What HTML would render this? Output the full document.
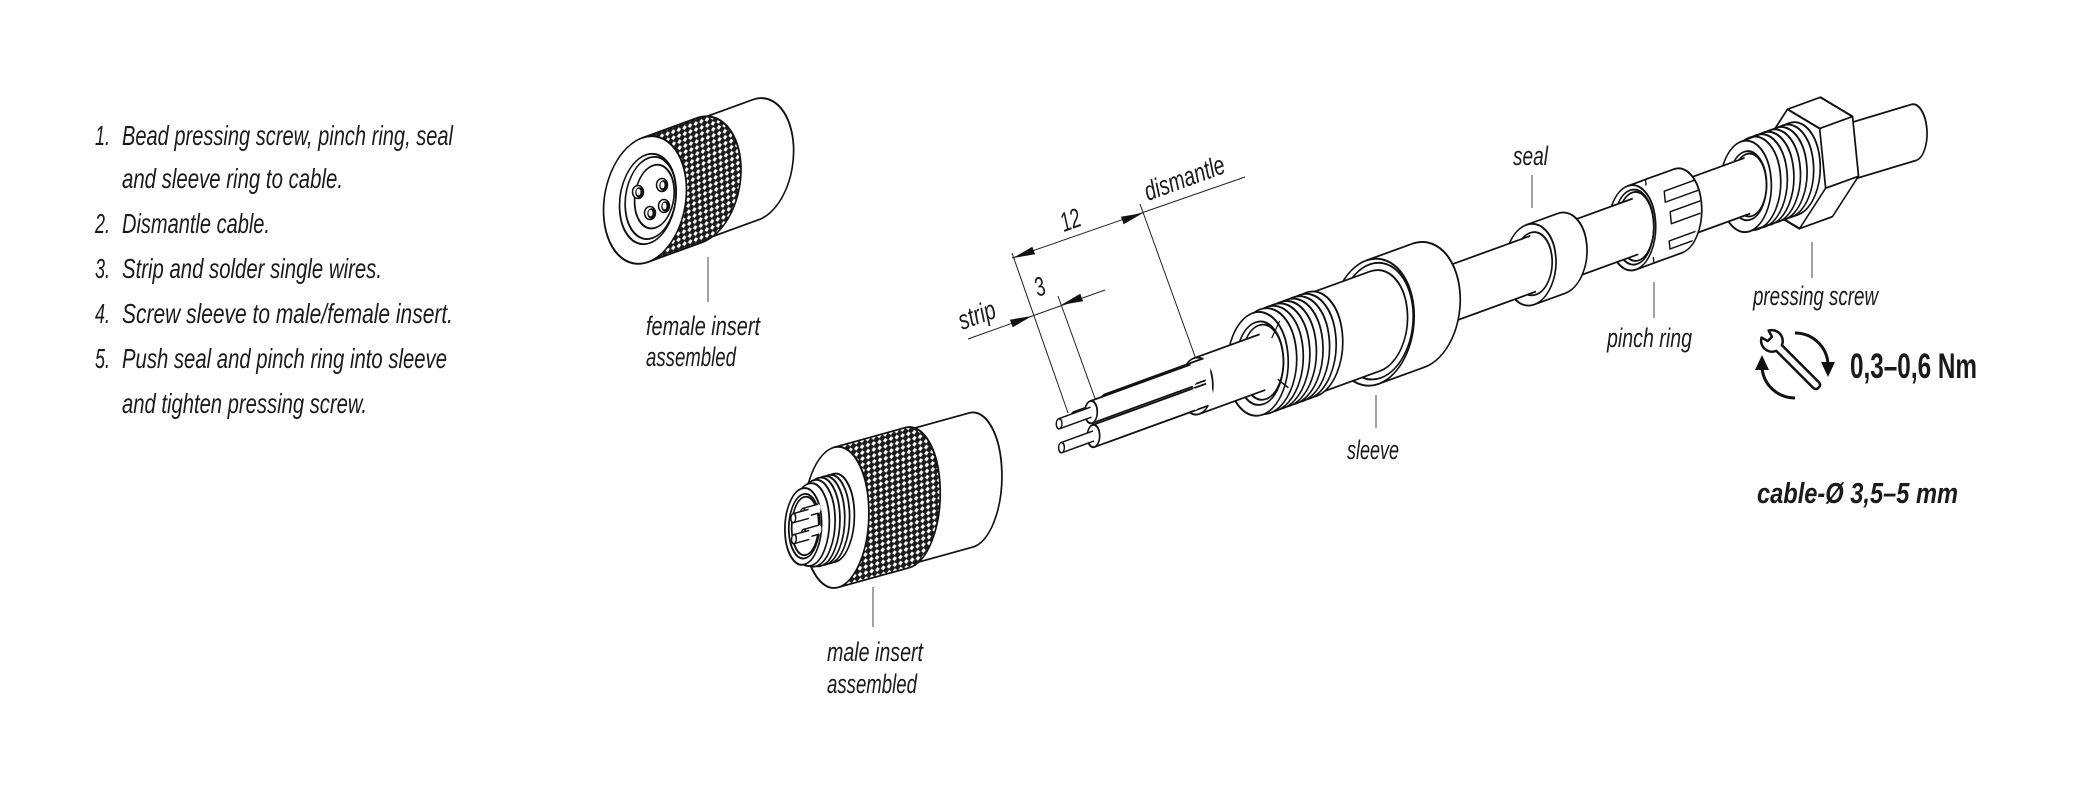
<!DOCTYPE html>
<html><head><meta charset="utf-8">
<style>html,body{margin:0;padding:0;background:#fff}svg{display:block}</style>
</head><body>
<svg width="2076" height="796" viewBox="0 0 2076 796" xmlns="http://www.w3.org/2000/svg">
<defs>
<pattern id="kn" width="6" height="6" patternUnits="userSpaceOnUse"><rect width="6" height="6" fill="#1c1c1c"/><path d="M3 0.6L5.4 3L3 5.4L0.6 3Z" fill="#fff"/></pattern>
</defs>
<rect width="2076" height="796" fill="#fff"/>

<!-- Instruction list -->
<g font-family="'Liberation Sans', sans-serif" font-style="italic" font-size="27.5" fill="#1a1a1a">
 <text x="95" y="145" textLength="15" lengthAdjust="spacingAndGlyphs">1.</text>
 <text x="122" y="145" textLength="331" lengthAdjust="spacingAndGlyphs">Bead pressing screw, pinch ring, seal</text>
 <text x="122" y="188" textLength="221" lengthAdjust="spacingAndGlyphs">and sleeve ring to cable.</text>
 <text x="95" y="233" textLength="15" lengthAdjust="spacingAndGlyphs">2.</text>
 <text x="122" y="233" textLength="148" lengthAdjust="spacingAndGlyphs">Dismantle cable.</text>
 <text x="95" y="278" textLength="15" lengthAdjust="spacingAndGlyphs">3.</text>
 <text x="122" y="278" textLength="260" lengthAdjust="spacingAndGlyphs">Strip and solder single wires.</text>
 <text x="95" y="323" textLength="15" lengthAdjust="spacingAndGlyphs">4.</text>
 <text x="122" y="323" textLength="331" lengthAdjust="spacingAndGlyphs">Screw sleeve to male/female insert.</text>
 <text x="95" y="368" textLength="15" lengthAdjust="spacingAndGlyphs">5.</text>
 <text x="122" y="368" textLength="325" lengthAdjust="spacingAndGlyphs">Push seal and pinch ring into sleeve</text>
 <text x="122" y="413" textLength="245" lengthAdjust="spacingAndGlyphs">and tighten pressing screw.</text>
</g>

<!-- Labels -->
<g font-family="'Liberation Sans', sans-serif" font-style="italic" font-size="27" fill="#1a1a1a">
 <text x="646" y="335" textLength="114" lengthAdjust="spacingAndGlyphs">female insert</text>
 <text x="646" y="366" textLength="90" lengthAdjust="spacingAndGlyphs">assembled</text>
 <text x="827" y="661" textLength="96" lengthAdjust="spacingAndGlyphs">male insert</text>
 <text x="827" y="693" textLength="90" lengthAdjust="spacingAndGlyphs">assembled</text>
 <text x="1347" y="459" textLength="52" lengthAdjust="spacingAndGlyphs">sleeve</text>
 <text x="1513" y="165" textLength="35" lengthAdjust="spacingAndGlyphs">seal</text>
 <text x="1607" y="347" textLength="85" lengthAdjust="spacingAndGlyphs">pinch ring</text>
 <text x="1753" y="305" textLength="125" lengthAdjust="spacingAndGlyphs">pressing screw</text>
 <text x="1148" y="201" transform="rotate(-20 1148 201)" textLength="84" lengthAdjust="spacingAndGlyphs">dismantle</text>
 <text x="1064" y="232" transform="rotate(-20 1064 232)" textLength="20" lengthAdjust="spacingAndGlyphs">12</text>
 <text x="1038" y="297" transform="rotate(-20 1038 297)" textLength="10" lengthAdjust="spacingAndGlyphs">3</text>
 <text x="962" y="330" transform="rotate(-20 962 330)" textLength="38" lengthAdjust="spacingAndGlyphs">strip</text>
</g>
<g font-family="'Liberation Sans', sans-serif" font-weight="bold" fill="#1a1a1a">
 <text x="1850" y="378" font-size="35" textLength="127" lengthAdjust="spacingAndGlyphs">0,3–0,6 Nm</text>
 <text x="1757" y="503" font-size="29" font-style="italic" textLength="201" lengthAdjust="spacingAndGlyphs">cable-Ø 3,5–5 mm</text>
</g>

<!-- Leader lines -->
<g stroke="#666" stroke-width="1.2" fill="none">
 <path d="M708,257V302M873,587V627M1376,395V428M1532,175V208M1654,282V318M1812,242V278"/>
</g>

<!-- Dimension lines -->
<g stroke="#222" stroke-width="1" fill="none">
 <path d="M1012,253L1068,413M1058,296L1097,404M1140,204L1197,362"/>
 <path d="M1012,258L1245,177M968,339L1105,290"/>
</g>
<g fill="#111">
 <path d="M1013,258L1035.1,254.3L1032.3,246.7Z"/>
 <path d="M1143,213L1123.7,224.3L1120.9,216.7Z"/>
 <path d="M1032,316L1012.7,327.3L1009.9,319.7Z"/>
 <path d="M1061,305L1083.1,301.3L1080.3,293.7Z"/>
</g>

<!-- Cable assembly -->
<g transform="matrix(0.94,-0.342,0.1,0.995,1065,434)" stroke="#111" stroke-width="1.8" fill="none" stroke-linejoin="round">
 <!-- cable end -->
 <path d="M780,-28L902,-21A14 28 0 0 1 902,35L780,28Z" fill="#fff" stroke="none"/>
 <path d="M780,-28L902,-21A14 28 0 0 1 902,35L780,28"/>
 <!-- hex nut -->
 <path d="M744,-30L775,-60L810,-60L841,-30L841,30L810,60L775,60L744,30Z" fill="#fff"/>
 <path d="M775,-60L806,-30L806,30L775,60L744,30L744,-30Z M806,-30L841,-30 M806,30L841,30"/>
 <!-- pressing screw thread -->
 <ellipse cx="775" cy="0" rx="28" ry="46" fill="#fff"/>
 <ellipse cx="768" cy="0" rx="28" ry="46" fill="#fff"/>
 <ellipse cx="761" cy="0" rx="28" ry="46" fill="#fff"/>
 <ellipse cx="754" cy="0" rx="28" ry="46" fill="#fff"/>
 <ellipse cx="747" cy="0" rx="28" ry="46" fill="#fff"/>
 <ellipse cx="740" cy="0" rx="28" ry="46" fill="#fff"/>
 <ellipse cx="733" cy="0" rx="28" ry="46" fill="#fff"/>
 <path d="M723,-45L775,-46M723,45L775,46"/>
 <ellipse cx="724" cy="0" rx="27" ry="45" fill="#fff"/>
 <ellipse cx="726" cy="0" rx="20" ry="34"/>
 <ellipse cx="728" cy="0" rx="18" ry="31"/>
 <!-- cable 650-723 -->
 <path d="M650,-28L726,-28A17 28 0 0 1 726,28L650,28Z" fill="#fff" stroke="none"/>
 <path d="M650,-28L726,-28M650,28L726,28"/>
 <!-- pinch ring -->
 <path d="M603,-42L652,-42A25 42 0 0 1 652,42L603,42Z" fill="#fff"/>
 <path d="M672,-24L640,-24L640,-13L675,-13 M676,-2L644,-2L644,10L675,10 M668,26L640,26L640,34L664,34" stroke-width="1.5"/>
 <path d="M622,-42L622,-36M622,36L622,42" stroke-width="1.4"/>
 <ellipse cx="603" cy="0" rx="25" ry="42" fill="#fff"/>
 <ellipse cx="605" cy="0" rx="21" ry="37"/>
 <ellipse cx="607" cy="0" rx="19" ry="34"/>
 <!-- cable 525-603 -->
 <path d="M525,-28L607,-28A17 28 0 0 1 607,28L525,28Z" fill="#fff" stroke="none"/>
 <path d="M525,-28L607,-28M525,28L607,28"/>
 <!-- seal -->
 <path d="M495,-40L528,-40A27 40 0 0 1 528,40L495,40Z" fill="#fff"/>
 <ellipse cx="495" cy="0" rx="27" ry="40" fill="#fff"/>
 <ellipse cx="498" cy="0" rx="20" ry="31"/>
 <!-- cable 370-495 -->
 <path d="M370,-28L498,-28A17 28 0 0 1 498,28L370,28Z" fill="#fff" stroke="none"/>
 <path d="M370,-28L498,-28M370,28L498,28"/>
 <!-- sleeve nut -->
 <path d="M327,-62L376,-62A44 62 0 0 1 376,62L327,62Z" fill="#fff"/>
 <ellipse cx="327" cy="0" rx="44" ry="62" fill="#fff"/>
 <ellipse cx="330" cy="0" rx="40" ry="57"/>
 <!-- sleeve body -->
 <path d="M262,-50L330,-50A34 50 0 0 1 330,50L262,50Z" fill="#fff" stroke="none"/>
 <path d="M262,-50L330,-50A34 50 0 0 1 330,50L262,50"/>
 <!-- sleeve thread -->
 <ellipse cx="262" cy="0" rx="33" ry="52" fill="#fff"/>
 <ellipse cx="255" cy="0" rx="33" ry="52" fill="#fff"/>
 <ellipse cx="248" cy="0" rx="33" ry="52" fill="#fff"/>
 <ellipse cx="241" cy="0" rx="33" ry="52" fill="#fff"/>
 <ellipse cx="234" cy="0" rx="33" ry="52" fill="#fff"/>
 <ellipse cx="227" cy="0" rx="33" ry="52" fill="#fff"/>
 <ellipse cx="220" cy="0" rx="33" ry="52" fill="#fff"/>
 <ellipse cx="213" cy="0" rx="33" ry="52" fill="#fff"/>
 <ellipse cx="205" cy="0" rx="32" ry="51" fill="#fff"/>
 <ellipse cx="207" cy="0" rx="25" ry="41"/>
 <ellipse cx="210" cy="0" rx="22" ry="37"/>
 <path d="M222,-20L232,-34M224,22L234,34" stroke-width="1.4"/>
 <!-- cable 140-205 -->
 <path d="M140,-28L210,-28A17 28 0 0 1 210,28L140,28Z" fill="#fff" stroke="none"/>
 <path d="M140,-28L210,-28M140,28L210,28"/>
 <!-- jacket face -->
 <ellipse cx="140" cy="0" rx="17" ry="28" fill="#fff"/>
 <!-- back wires (shift +11) -->
 <path d="M45,-24.5L150,-24.5A6 11 0 0 1 150,-2.5L45,-2.5Z" fill="#fff" stroke="none"/>
 <path d="M45,-24.5L150,-24.5M45,-2.5L150,-2.5"/>
 <ellipse cx="45" cy="-13.5" rx="6.5" ry="11" fill="#fff"/>
 <path d="M11,-18.5L45,-18.5A3 5 0 0 1 45,-8.5L11,-8.5Z" fill="#fff" stroke="none"/>
 <path d="M11,-18.5L45,-18.5M11,-8.5L45,-8.5" stroke-width="1.5"/>
 <ellipse cx="11" cy="-13.5" rx="3" ry="5" fill="#fff" stroke-width="1.5"/>
 <path d="M45,1L150,1A6 11 0 0 1 150,23L45,23Z" fill="#fff" stroke="none"/>
 <path d="M45,1L150,1M45,23L150,23"/>
 <ellipse cx="45" cy="12" rx="6.5" ry="11" fill="#fff"/>
 <path d="M11,7L45,7A3 5 0 0 1 45,17L11,17Z" fill="#fff" stroke="none"/>
 <path d="M11,7L45,7M11,17L45,17" stroke-width="1.5"/>
 <ellipse cx="11" cy="12" rx="3" ry="5" fill="#fff" stroke-width="1.5"/>
 <!-- front wires (shift -5) -->
 <path d="M29,-23L136,-23A6 11 0 0 1 136,-1L29,-1Z" fill="#fff" stroke="none"/>
 <path d="M29,-23L136,-23M29,-1L136,-1"/>
 <ellipse cx="29" cy="-12" rx="6.5" ry="11" fill="#fff"/>
 <path d="M-5,-17L29,-17A3 5 0 0 1 29,-7L-5,-7Z" fill="#fff" stroke="none"/>
 <path d="M-5,-17L29,-17M-5,-7L29,-7" stroke-width="1.5"/>
 <ellipse cx="-5" cy="-12" rx="3" ry="5" fill="#fff" stroke-width="1.5"/>
 <path d="M29,1L136,1A6 11 0 0 1 136,23L29,23Z" fill="#fff" stroke="none"/>
 <path d="M29,1L136,1M29,23L136,23"/>
 <ellipse cx="29" cy="12" rx="6.5" ry="11" fill="#fff"/>
 <path d="M-5,7L29,7A3 5 0 0 1 29,17L-5,17Z" fill="#fff" stroke="none"/>
 <path d="M-5,7L29,7M-5,17L29,17" stroke-width="1.5"/>
 <ellipse cx="-5" cy="12" rx="3" ry="5" fill="#fff" stroke-width="1.5"/>
</g>

<!-- Female insert -->
<g transform="matrix(0.94,-0.342,0.05,1,645,200)" stroke="#111" stroke-width="1.8" fill="none">
 <path d="M58,-60L118,-60A40 60 0 0 1 118,60L58,60Z" fill="#fff" stroke="none"/>
 <path d="M58,-60L118,-60A40 60 0 0 1 118,60L58,60"/>
 <path d="M0,-62L58,-62A44 62 0 0 1 58,62L0,62Z" fill="url(#kn)"/>
 <ellipse cx="0" cy="0" rx="44" ry="62" fill="#fff"/>
 <ellipse cx="3" cy="0" rx="30" ry="44" fill="#fff"/>
 <ellipse cx="6" cy="0" rx="27" ry="40"/>
 <ellipse cx="10" cy="0" rx="21" ry="31"/>
</g>
<g stroke="#111" stroke-width="1.5">
 <ellipse cx="638" cy="192" rx="5.5" ry="6.5" fill="#fff"/><ellipse cx="639.5" cy="192.5" rx="3.5" ry="4.5" fill="#111"/><ellipse cx="638.5" cy="192" rx="2" ry="3.3" fill="#fff" stroke="none"/>
 <ellipse cx="662" cy="185" rx="5.5" ry="6.5" fill="#fff"/><ellipse cx="663.5" cy="185.5" rx="3.5" ry="4.5" fill="#111"/><ellipse cx="662.5" cy="185" rx="2" ry="3.3" fill="#fff" stroke="none"/>
 <ellipse cx="650" cy="213" rx="5.5" ry="6.5" fill="#fff"/><ellipse cx="651.5" cy="213.5" rx="3.5" ry="4.5" fill="#111"/><ellipse cx="650.5" cy="213" rx="2" ry="3.3" fill="#fff" stroke="none"/>
 <ellipse cx="664" cy="206" rx="5.5" ry="6.5" fill="#fff"/><ellipse cx="665.5" cy="206.5" rx="3.5" ry="4.5" fill="#111"/><ellipse cx="664.5" cy="206" rx="2" ry="3.3" fill="#fff" stroke="none"/>
</g>

<!-- Male insert -->
<g transform="matrix(0.964,-0.267,0.03,1,971,480)" stroke="#111" stroke-width="1.8" fill="none">
 <path d="M-66,-67L0,-67A32 67 0 0 1 0,67L-66,67Z" fill="#fff" stroke="none"/>
 <path d="M-66,-67L0,-67A32 67 0 0 1 0,67L-66,67"/>
 <path d="M-140,-70L-66,-70A34 70 0 0 1 -66,70L-140,70Z" fill="url(#kn)"/>
 <ellipse cx="-140" cy="0" rx="34" ry="70" fill="#fff"/>
 <ellipse cx="-142" cy="0" rx="21" ry="44" fill="#fff"/>
 <ellipse cx="-147" cy="0" rx="21" ry="44" fill="#fff"/>
 <ellipse cx="-152" cy="0" rx="21" ry="44" fill="#fff"/>
 <ellipse cx="-157" cy="0" rx="21" ry="44" fill="#fff"/>
 <ellipse cx="-162" cy="0" rx="21" ry="43" fill="#fff"/>
 <ellipse cx="-167" cy="0" rx="20" ry="41" fill="#fff"/>
 <ellipse cx="-174" cy="0" rx="19" ry="38" fill="#fff"/>
 <ellipse cx="-173" cy="0" rx="16" ry="32"/>
 <ellipse cx="-172" cy="0" rx="14" ry="29"/>
 <!-- pins (back) -->
 <path d="M-174,-18L-158,-18A2.5 4.5 0 0 1 -158,-9L-174,-9Z" fill="#fff" stroke="none"/>
 <path d="M-174,-18L-158,-18M-174,-9L-158,-9" stroke-width="1.5"/>
 <ellipse cx="-174" cy="-13.5" rx="2.5" ry="4.5" fill="#fff" stroke-width="1.5"/>
 <path d="M-174,3L-158,3A2.5 4.5 0 0 1 -158,12L-174,12Z" fill="#fff" stroke="none"/>
 <path d="M-174,3L-158,3M-174,12L-158,12" stroke-width="1.5"/>
 <ellipse cx="-174" cy="7.5" rx="2.5" ry="4.5" fill="#fff" stroke-width="1.5"/>
 <!-- pins (front) -->
 <path d="M-184,-15.5L-168,-15.5A2.5 4.5 0 0 1 -168,-6.5L-184,-6.5Z" fill="#fff" stroke="none"/>
 <path d="M-184,-15.5L-168,-15.5M-184,-6.5L-168,-6.5" stroke-width="1.5"/>
 <ellipse cx="-184" cy="-11" rx="2.5" ry="4.5" fill="#fff" stroke-width="1.5"/>
 <path d="M-184,5.5L-168,5.5A2.5 4.5 0 0 1 -168,14.5L-184,14.5Z" fill="#fff" stroke="none"/>
 <path d="M-184,5.5L-168,5.5M-184,14.5L-168,14.5" stroke-width="1.5"/>
 <ellipse cx="-184" cy="10" rx="2.5" ry="4.5" fill="#fff" stroke-width="1.5"/>
</g>

<!-- Torque icon -->
<g fill="none" stroke="#111" stroke-width="3">
 <path d="M1795,333A33 33 0 0 1 1828,364"/>
 <path d="M1795,398A33 33 0 0 1 1762,368"/>
</g>
<g fill="#111">
 <path d="M1828,377L1821,362L1835,362Z"/>
 <path d="M1762,355L1755,370L1769,370Z"/>
</g>
<path transform="translate(1772,341) rotate(-45)" d="M-4,62Q-4,66 0,66Q4,66 4,62L4,10A11 11 0 0 0 5,-9.8L3,-3L-3,-3L-5,-9.8A11 11 0 0 0 -4,10Z" fill="#fff" stroke="#111" stroke-width="2.5" stroke-linejoin="round"/>
</svg>
</body></html>
